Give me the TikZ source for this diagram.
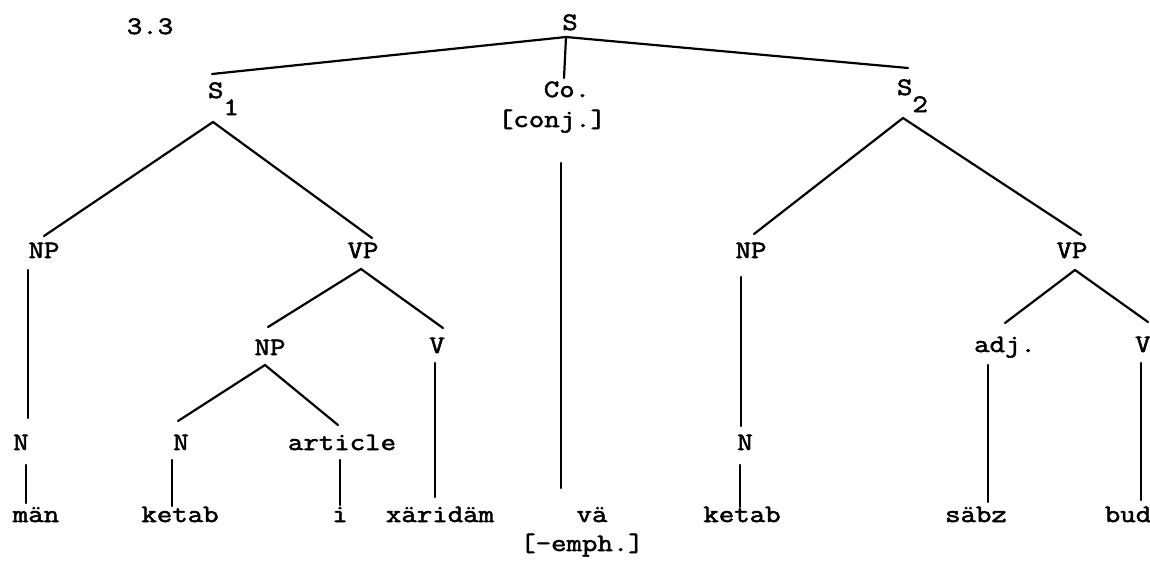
\documentclass[tikz,border=0pt]{standalone}
\usepackage{fontspec}
\setmonofont{Latin Modern Mono}[FakeStretch=1.2,FakeBold=2.2]
\begin{document}
\begin{tikzpicture}[x=1pt,y=-1pt,
  lbl/.style={inner sep=0pt,outer sep=0pt,anchor=base,font=\ttfamily\fontsize{25}{30}\selectfont},
  lblw/.style={lbl,anchor=base west},
  br/.style={line width=2.2pt,line cap=round}]
\useasboundingbox (0,0) rectangle (1150,566);
% labels
\node[lbl] (num) at (150,34) {3.3};
\node[lbl] (S) at (570,30) {S};
\node[lblw] (S1) at (208,98) {S\raisebox{-17pt}{1}};
\node[lbl] (Co) at (567,97) {Co.};
\node[lbl] (conj) at (552,127) {[conj.]};
\node[lblw] (S2) at (897,95) {S\raisebox{-17pt}{2}};
\node[lbl] (NPa) at (44,258) {NP};
\node[lbl] (VPa) at (363,258) {VP};
\node[lbl] (NPb) at (751,258) {NP};
\node[lbl] (VPb) at (1072,258) {VP};
\node[lbl] (NPi) at (270,355) {NP};
\node[lbl] (Va) at (437,353) {V};
\node[lbl] (adj) at (1005,352) {adj.};
\node[lbl] (Vb) at (1143,352) {V};
\node[lbl] (Na) at (21,450) {N};
\node[lbl] (Nb) at (181,450) {N};
\node[lbl] (art) at (342,450) {article};
\node[lbl] (Nc) at (745,450) {N};
\node[lbl] (man) at (36,522) {män};
\node[lbl] (keta) at (180,522) {ketab};
\node[lbl] (iw) at (340,522) {i};
\node[lbl] (xar) at (440,522) {xäridäm};
\node[lbl] (va) at (592,522) {vä};
\node[lbl] (emph) at (582,551) {[-emph.]};
\node[lbl] (ketb) at (742,522) {ketab};
\node[lbl] (sabz) at (976,522) {säbz};
\node[lbl] (bud) at (1128,522) {bud};
% branches
\draw[br] ([shift={(11,-27)}]S2.base west) -- ([shift={(-4,7)}]S.base) -- ([shift={(4,-24)}]S1.base west);
\draw[br] ([shift={(-4,7)}]S.base) -- ([shift={(-3,-19)}]Co.base);
\draw[br] ([shift={(0,-22)}]NPa.base) -- ([shift={(5,24)}]S1.base west) -- ([shift={(9,-20)}]VPa.base);
\draw[br] ([shift={(3,-24)}]NPb.base) -- ([shift={(6,23)}]S2.base west) -- ([shift={(9,-23)}]VPb.base);
\draw[br] ([shift={(-16,12)}]NPa.base) -- ([shift={(7,-32)}]Na.base);
\draw[br] ([shift={(-2,-28)}]NPi.base) -- ([shift={(-2,11)}]VPa.base) -- ([shift={(6,-25)}]Va.base);
\draw[br] ([shift={(-3,-29)}]Nb.base) -- ([shift={(-5,10)}]NPi.base) -- ([shift={(-4,-25)}]art.base);
\draw[br] ([shift={(-2,10)}]Va.base) -- ([shift={(-5,-25)}]xar.base);
\draw[br] ([shift={(5,15)}]Na.base) -- ([shift={(-10,-19)}]man.base);
\draw[br] ([shift={(-9,10)}]Nb.base) -- ([shift={(-8,-16)}]keta.base);
\draw[br] ([shift={(-2,10)}]art.base) -- ([shift={(0,-17)}]iw.base);
\draw[br] ([shift={(9,36)}]conj.base) -- ([shift={(-31,-34)}]va.base);
\draw[br] ([shift={(-10,19)}]NPb.base) -- ([shift={(-4,-24)}]Nc.base);
\draw[br] ([shift={(-5,15)}]Nc.base) -- ([shift={(-2,-15)}]ketb.base);
\draw[br] ([shift={(0,-29)}]adj.base) -- ([shift={(3,12)}]VPb.base) -- ([shift={(5,-30)}]Vb.base);
\draw[br] ([shift={(-17,13)}]adj.base) -- ([shift={(12,-20)}]sabz.base);
\draw[br] ([shift={(-2,11)}]Vb.base) -- ([shift={(13,-22)}]bud.base);
\end{tikzpicture}
\end{document}
